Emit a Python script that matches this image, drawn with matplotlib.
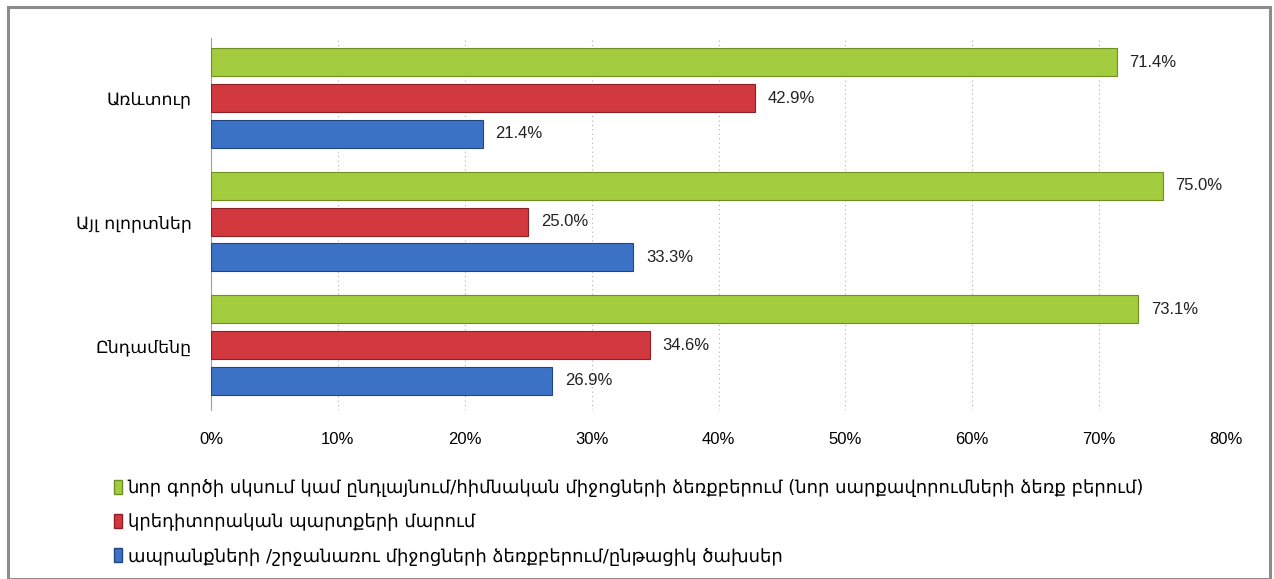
import matplotlib
matplotlib.use("Agg")
import matplotlib.pyplot as plt
from matplotlib.patches import Rectangle, Patch
import numpy as np

plt.rcParams['font.family'] = ['DejaVu Sans']

categories = ["Առևտուր", "Այլ ոլորտներ", "Ընդամենը"]
series_names = [
    "նոր գործի սկսում կամ ընդլայնում/հիմնական միջոցների ձեռքբերում (նոր սարքավորումների ձեռք բերում)",
    "կրեդիտորական պարտքերի մարում",
    "ապրանքների /շրջանառու միջոցների ձեռքբերում/ընթացիկ ծախսեր",
]
green_vals = [71.4, 75.0, 73.1]
red_vals = [42.9, 25.0, 34.6]
blue_vals = [21.4, 33.3, 26.9]
xticks = [0, 10, 20, 30, 40, 50, 60, 70, 80]
xtick_labels = ["0%", "10%", "20%", "30%", "40%", "50%", "60%", "70%", "80%"]

colors = ["#a3cc3e", "#d2393f", "#3c72c6"]
edges = ["#6f8f22", "#8e1f25", "#22467f"]

narrow = ["Liberation Sans Narrow", "Liberation Sans", "DejaVu Sans"]

fig = plt.figure(figsize=(12.74, 5.79), dpi=100)
fig.patches.append(Rectangle((8/1274, 0), 1262/1274, 1 - 7/579, transform=fig.transFigure,
                             fill=False, edgecolor="#8c8c8c", linewidth=2.2))

ax = fig.add_axes([211/1274, 1 - 410/579, (1226-211)/1274, (410-38)/579])

y = np.arange(len(categories))
off = 0.29
h = 0.227
all_vals = [green_vals, red_vals, blue_vals]
offsets = [-off, 0, off]
for vals, o, c, e in zip(all_vals, offsets, colors, edges):
    bars = ax.barh(y + o, vals, height=h, color=c, edgecolor=e, linewidth=0.8, zorder=3)
    for b, v in zip(bars, vals):
        ax.text(v + 1.0, b.get_y() + b.get_height()/2, f"{v:.1f}%", va="center", ha="left",
                fontsize=12, color="#222222", family=narrow)

ax.set_xlim(0, 80)
ax.set_ylim(2.526, -0.486)
ax.set_xticks(xticks)
ax.set_xticklabels(xtick_labels, family=narrow, fontsize=12)
ax.set_yticks(y)
ax.set_yticklabels(categories, fontsize=12.5)
ax.tick_params(axis="y", length=0, pad=14)
ax.tick_params(axis="x", length=0, pad=16)
for s in ["top", "right", "bottom"]:
    ax.spines[s].set_visible(False)
ax.spines["left"].set_color("#a0a0a0")
ax.grid(axis="x", linestyle=(0, (1, 3)), color="#b0b0b0", linewidth=0.8, zorder=0)
ax.set_axisbelow(True)

handles = [Patch(facecolor=c, edgecolor=e) for c, e in zip(colors, edges)]
fig.legend(handles, series_names, loc="upper left", bbox_to_anchor=(114/1274, 1 - 479/579),
           frameon=False, fontsize=13, handlelength=0.45, handleheight=0.8, handletextpad=0.3,
           labelspacing=0.9, borderaxespad=0, borderpad=0)

fig.savefig("out.png", dpi=100, facecolor="white")
